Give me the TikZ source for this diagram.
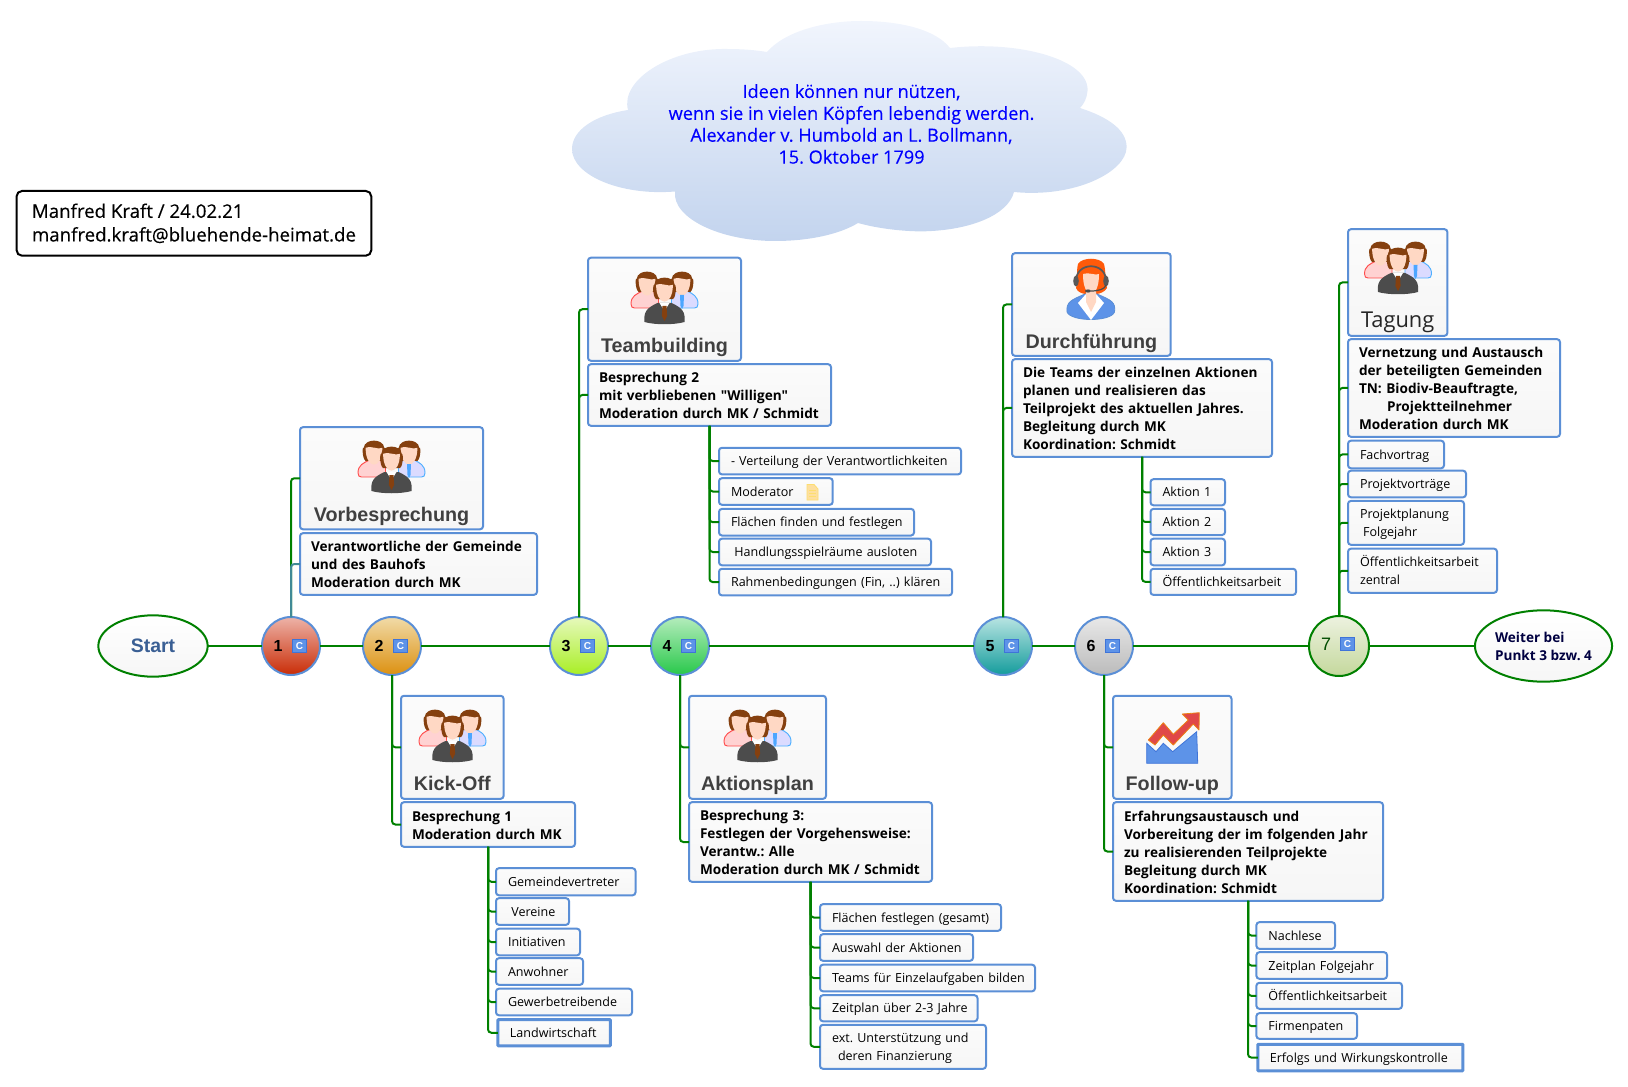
\documentclass[tikz,border=0pt]{standalone}
\usepackage{fontspec}
\setmainfont{Open Sans}
\newfontfamily\arialfont{Liberation Sans}
\newfontfamily\semifont[FakeBold=0.3]{Open Sans}
\newfontfamily\straightfont{Open Sans}
\usetikzlibrary{shapes.geometric}
\definecolor{boxblue}{HTML}{5B8FD6}
\definecolor{linegreen}{HTML}{008000}
\definecolor{top1}{HTML}{EDB3A8}\definecolor{bot1}{HTML}{C92C06}
\definecolor{top2}{HTML}{F1DBA8}\definecolor{bot2}{HTML}{DC9010}
\definecolor{top3}{HTML}{E6F9BC}\definecolor{bot3}{HTML}{A8EE24}
\definecolor{top4}{HTML}{B4ECBC}\definecolor{bot4}{HTML}{28C84A}
\definecolor{top5}{HTML}{B8E4E2}\definecolor{bot5}{HTML}{149C9C}
\definecolor{top6}{HTML}{E8E8E8}\definecolor{bot6}{HTML}{BBBBBB}
\definecolor{top7}{HTML}{EDF2E0}\definecolor{bot7}{HTML}{C4D89C}
\definecolor{hairbrown}{HTML}{85400F}
\definecolor{skin}{HTML}{FFD8C4}
\definecolor{cloudtop}{HTML}{F1F5FD}\definecolor{cloudbot}{HTML}{C3D4EE}
\definecolor{startblue}{HTML}{3A5F94}
\definecolor{badgefill}{HTML}{5D93E8}\definecolor{badgeline}{HTML}{3F74D8}
\definecolor{headhair}{HTML}{FF5A0A}
\definecolor{arrowred}{HTML}{E04848}
\tikzset{
	base/.style={draw=boxblue,line width=1.5pt,rounded corners=2.2pt,top color=white!97!gray,bottom color=white!93!gray,outer sep=0pt,inner ysep=0pt,anchor=north west,xshift=-.75pt,yshift=.6pt},
	leaf/.style 2 args={base,minimum width=#1*.75pt+1.5pt,minimum height=#2*.75pt+1.2pt,text width=#1*.75pt-16.5pt,inner xsep=8.25pt,align=left,
		font=\fontsize{9.4}{13.5}\selectfont\frenchspacing,execute at begin node={\rule{0pt}{10.95pt}},execute at end node=\strut},
	detail/.style 2 args={leaf={#1}{#2},text width=#1*.75pt-15pt,font=\fontsize{10.2}{13.5}\selectfont\bfseries\frenchspacing,execute at begin node={\rule{0pt}{12.45pt}}},
	headbox/.style n args={3}{base,minimum width=#1*.75pt+1.5pt,inner xsep=0pt,text height=#2*.75pt,text depth=5.6pt,
		font=\arialfont\fontsize{14.8}{16}\selectfont\bfseries,text=black!75,align=center,minimum height=#3*.75pt+1.2pt},
	conn/.style={draw=linegreen,line width=1.5pt,rounded corners=2.5pt},
	stepnode/.style={circle,draw=boxblue,line width=1.5pt,minimum size=43.5pt,inner sep=0pt,outer sep=0pt},
	cbadge/.style={draw=badgeline,fill=badgefill,text=white,minimum size=10pt,inner sep=0pt,line width=.6pt,
		font=\arialfont\fontsize{7.5}{8}\selectfont\bfseries},
	endnode/.style={ellipse,draw=linegreen,line width=1.5pt,top color=white,bottom color=white!93!gray,inner sep=0pt,outer sep=0pt},
}
% three people, origin at top middle of the icon
\newcommand{\headshape}[3]{%
	\begin{scope}[shift={(#1,#2)},scale=1.2]
		\fill[hairbrown] (-8.5,9) .. controls (-9.5,#3) and (-10.5,#3+11) .. (-7,#3+14)
		-- (7,#3+14) .. controls (10.5,#3+11) and (9.5,#3) .. (8.5,9)
		.. controls (8,1) and (-8,1) .. cycle;
		\fill[skin] (-7,9) .. controls (-7,19) and (-3,23) .. (0,23)
		.. controls (3,23) and (7,19) .. (7,9)
		.. controls (3,11) and (-1,7) .. cycle;
	\end{scope}
}
\newcommand{\peopleicon}[2]{%
	\begin{scope}[shift={(#1,#2)}]
		\filldraw[fill=pink!70,draw=red!70,line width=.7pt] (-33.5,36) .. controls (-33.5,28) and (-28,26) .. (-22,23)
		-- (-12,23) .. controls (-8,25) and (-6,28) .. (-6,31) -- (-6,40) -- (-30,40) .. controls (-32,40) and (-33.5,39) .. cycle;
		\headshape{-17.5}{0}{6}
		\filldraw[fill=blue!14,draw=blue!45!cyan!70,line width=.7pt] (33.5,36) .. controls (33.5,28) and (28,26) .. (23,23)
		-- (12,23) .. controls (8,25) and (7,28) .. (7,31) -- (7,40) -- (30,40) .. controls (32,40) and (33.5,39) .. cycle;
		\headshape{17.5}{0}{6}
		\fill[blue!50!cyan!70] (15.5,27) -- (19.5,27) -- (19,38) -- (17.5,41) -- (16,38) -- cycle;
		\fill[black!70] (-20,54) .. controls (-21,44) and (-18,40) .. (-7,35) -- (7,35) .. controls (18,40) and (21,44) .. (20,54)
		.. controls (10,57) and (-10,57) .. cycle;
		\fill[white] (-5,35) -- (0,43) -- (5,35) -- cycle;
		\fill[hairbrown] (-2,38) -- (2,38) -- (2.6,48) -- (0,53) -- (-2.6,48) -- cycle;
		\headshape{0}{6}{7}
	\end{scope}
}
\begin{document}
\begin{tikzpicture}[x=.75pt,y=-.75pt]
	\useasboundingbox (0,0) rectangle (1628,1087);
	%cloud
	\shade[top color=cloudtop,bottom color=cloudbot] (767,52) .. controls (785,31) and (825,21) .. (861,21)
	.. controls (902,21) and (936,30) .. (950,48)
	.. controls (1020,40) and (1090,60) .. (1087.5,91)
	.. controls (1087,98) and (1084,104) .. (1080,108)
	.. controls (1108,117) and (1127,130) .. (1126.6,147.5)
	.. controls (1126,172) and (1075,198) .. (1014,192)
	.. controls (1008,215) and (970,231) .. (920,231.4)
	.. controls (898,231) and (876,228) .. (858,223)
	.. controls (840,234) and (810,241) .. (775,241)
	.. controls (720,241) and (672,218) .. (675,191.5)
	.. controls (620,196) and (572,175) .. (572,149)
	.. controls (572,130) and (595,115) .. (628,110)
	.. controls (620,80) and (670,48) .. (727,49)
	.. controls (742,49) and (755,50) .. cycle;
	\node[align=center,text=blue,font=\semifont\fontsize{13.6}{16.4}\selectfont\frenchspacing] (quote) at (851.5,124)
	{Ideen können nur nützen,\\wenn sie in vielen Köpfen lebendig werden.\\Alexander v. Humbold an L. Bollmann,\\15. Oktober 1799};
	%author
	\node[draw=black,line width=1.5pt,rounded corners=4pt,fill=white,anchor=north west,outer sep=0pt,inner xsep=10pt,inner ysep=0pt,minimum width=266pt,minimum height=48.5pt,align=left,font=\semifont\fontsize{14}{17.7}\selectfont\frenchspacing] (author) at (16.6,191)
	{Manfred Kraft / 24.02.21\\manfred.kraft@bluehende-heimat.de};
	%axis nodes
	\node[endnode,minimum width=82pt,minimum height=46pt,text=startblue,font=\arialfont\fontsize{14.6}{16}\selectfont\bfseries] (start) at (153,646) {Start};
	\node[endnode,minimum width=100pt,minimum height=53.5pt,align=left,text=blue!25!black,font=\fontsize{10.2}{13.5}\selectfont\bfseries\frenchspacing] (weiter) at (1543.5,646) {Weiter bei\\Punkt 3 bzw. 4};
	\foreach \n/\cx in {1/291,2/392,3/579,4/680,5/1003,6/1104}
	{
		\node[stepnode,top color=top\n,bottom color=bot\n] (c\n) at (\cx,646) {};
		\node[inner sep=0pt,font=\arialfont\fontsize{12}{14}\selectfont\bfseries] (num\n) at (\cx-13,646) {\n};
		\node[cbadge] (badge\n) at (\cx+8.5,646) {C};
	}
	\node[stepnode,minimum size=45pt,draw=linegreen,top color=top7,bottom color=bot7] (c7) at (1339,646) {};
	\node[inner sep=0pt,text=black!70!green,font=\arialfont\fontsize{13.5}{14}\selectfont] (num7) at (1326,644) {7};
	\node[cbadge] (badge7) at (1347.5,644) {C};
	%head boxes
	\node[headbox={181}{93}{100.5}] (vorb) at (301,428) {Vorbesprechung};
	\node[headbox={151}{94}{101.5}] (team) at (589,258.5) {Teambuilding};
	\node[headbox={100.6}{94}{101.4}] (kick) at (402,696.6) {Kick-Off};
	\node[headbox={135}{94}{101.4}] (akt) at (690,696.6) {Aktionsplan};
	\node[headbox={156.7}{94.5}{101}] (durch) at (1013,254) {Durchführung};
	\node[headbox={116.5}{94}{101.4}] (foll) at (1114,696.6) {Follow-up};
	\node[headbox={97.4}{97.5}{105},font=\fontsize{16.4}{18}\selectfont,text=black!85] (tag) at (1349,230) {Tagung};
	%detail boxes
	\node[detail={235}{60}] (vorbd) at (301,534) {Verantwortliche der Gemeinde\\und des Bauhofs\\Moderation durch MK};
	\node[detail={241}{60}] (bes2) at (589,365) {Besprechung 2\\mit verbliebenen {\straightfont\bfseries"}Willigen{\straightfont\bfseries"}\\Moderation durch MK / Schmidt};
	\node[detail={172}{43}] (bes1) at (402,803) {Besprechung 1\\Moderation durch MK};
	\node[detail={241}{78}] (bes3) at (690,803) {Besprechung 3:\\Festlegen der Vorgehensweise:\\Verantw.: Alle\\Moderation durch MK / Schmidt};
	\node[detail={258}{96}] (durchd) at (1013,360) {Die Teams der einzelnen Aktionen\\planen und realisieren das\\Teilprojekt des aktuellen Jahres.\\Begleitung durch MK\\Koordination: Schmidt};
	\node[detail={268}{97}] (erf) at (1114,803) {Erfahrungsaustausch und\\Vorbereitung der im folgenden Jahr\\zu realisierenden Teilprojekte\\Begleitung durch MK\\Koordination: Schmidt};
	\node[detail={210}{96}] (tagd) at (1349,340) {Vernetzung und Austausch\\der beteiligten Gemeinden\\TN: Biodiv-Beauftragte,\\\hspace*{21pt}Projektteilnehmer\\Moderation durch MK};
	%leaves
	\node[leaf={240}{25}] (t1) at (720,448.6) {\mbox{- Verteilung der Verantwortlichkeiten}};
	\node[leaf={111.7}{25}] (t2) at (720,479) {Moderator};
	\node[leaf={193}{25}] (t3) at (720,509.7) {\mbox{Flächen finden und festlegen}};
	\node[leaf={210}{25}] (t4) at (720,539.5) {\mbox{\hspace*{2.5pt}Handlungsspielräume ausloten}};
	\node[leaf={231}{25}] (t5) at (720,569.6) {\mbox{Rahmenbedingungen (Fin, ..) klären}};
	\node[leaf={137.5}{25.5}] (k1) at (497,869) {Gemeindevertreter};
	\node[leaf={71}{25}] (k2) at (497,899) {\hspace*{2.5pt}Vereine};
	\node[leaf={82}{25}] (k3) at (497,929.5) {Initiativen};
	\node[leaf={85}{25}] (k4) at (497,959) {Anwohner};
	\node[leaf={134}{25}] (k5) at (497,989.5) {Gewerbetreibende};
	\node[leaf={110.5}{24.5},line width=2.3pt,rounded corners=.5pt] (k6) at (498.9,1020.5) {Landwirtschaft};
	\node[leaf={179}{25}] (a1) at (821,905) {\mbox{Flächen festlegen (gesamt)}};
	\node[leaf={151}{25}] (a2) at (821,935) {\mbox{Auswahl der Aktionen}};
	\node[leaf={213}{25}] (a3) at (821,965.5) {\mbox{Teams für Einzelaufgaben bilden}};
	\node[leaf={155.5}{24.5}] (a4) at (821,996) {\mbox{Zeitplan über 2-3 Jahre}};
	\node[leaf={164}{42.4}] (a5) at (821,1025.6) {ext. Unterstützung und\\\hspace*{4.5pt}deren Finanzierung};
	\node[leaf={72.5}{24.5}] (d1) at (1151.5,480) {Aktion 1};
	\node[leaf={72.5}{24.5}] (d2) at (1151.5,509.7) {Aktion 2};
	\node[leaf={72.5}{25}] (d3) at (1151.5,539.5) {Aktion 3};
	\node[leaf={143.5}{24.5}] (d4) at (1151.5,569.6) {Öffentlichkeitsarbeit};
	\node[leaf={76.6}{25}] (f1) at (1257.4,923) {Nachlese};
	\node[leaf={128.6}{25}] (f2) at (1257.4,953) {\mbox{Zeitplan Folgejahr}};
	\node[leaf={143.6}{24.4}] (f3) at (1257.4,983.6) {Öffentlichkeitsarbeit};
	\node[leaf={98.6}{24}] (f4) at (1257.4,1014) {Firmenpaten};
	\node[leaf={203}{24.9},line width=2.3pt,rounded corners=.5pt] (f5) at (1258.9,1045.1) {\mbox{Erfolgs und Wirkungskontrolle}};
	\node[leaf={94}{26}] (g1) at (1349,441.5) {Fachvortrag};
	\node[leaf={116}{25}] (g2) at (1349,471.5) {Projektvorträge};
	\node[leaf={114}{42.3}] (g3) at (1349,501.7) {Projektplanung\\\hspace*{2.3pt}Folgejahr};
	\node[leaf={147}{42.5}] (g4) at (1349,549.5) {Öffentlichkeitsarbeit\\zentral};
	%icons
	\peopleicon{391.5}{437}
	\peopleicon{664.5}{268}
	\peopleicon{452.5}{706}
	\peopleicon{757.5}{706}
	\peopleicon{1398}{238}
	\begin{scope}[shift={(1091,250)}]
		\fill[headhair] (-13,14) .. controls (-9,7) and (9,7) .. (13,14) .. controls (15,22) and (14,30) .. (16,38) .. controls (14,42) and (8,44) .. (5,44) -- (-5,44) .. controls (-8,44) and (-14,42) .. (-15,38) .. controls (-13,30) and (-15,22) .. cycle;
		\filldraw[fill=badgefill,draw=boxblue,line width=.6pt] (-24,62) .. controls (-25,52) and (-20,50) .. (-6,44) -- (6,44) .. controls (20,50) and (25,52) .. (23.5,62) .. controls (20,72) and (-20,72) .. cycle;
		\fill[white] (-13,53) -- (-5,44) -- (5,44) -- (13,53) -- (0,70) -- cycle;
		\fill[skin] (-8,24) .. controls (-8,34) and (-6,38) .. (-5,40) -- (-5,52) -- (0,62) -- (5,52) -- (5,40) .. controls (6,38) and (8,34) .. (8,24) .. controls (4,26) and (0,22) .. cycle;
		\draw[black!65,line width=1.3pt] (-15,32) .. controls (-16,11) and (16,11) .. (15,32);
		\fill[black!65] (-15,31) ellipse (2.8 and 5.5) (15,31) ellipse (2.8 and 5.5);
		\draw[black!70,line width=.9pt] (15,35) .. controls (14,39) and (8,41) .. (0,41);
		\fill[black!70] (-3,41) ellipse (3 and 1.6);
	\end{scope}
	\begin{scope}[shift={(1130,700)}]
		\filldraw[fill=badgefill,draw=badgeline,line width=.6pt] (16.7,43.3) -- (26,51.7) -- (33.3,43.3) -- (42.7,51.7) -- (66.7,31.7) -- (67.7,63.3) -- (16.7,63.3) -- cycle;
		\filldraw[fill=arrowred,draw=orange!70!brown,line width=.6pt,line join=round] (18.3,40) -- (33.3,22.7) -- (43.3,34.3) -- (58.3,20) -- (52.3,14) -- (69.3,12.7) -- (69,30) -- (63.3,24) -- (43.3,45) -- (33.3,35) -- (25,45) -- cycle;
	\end{scope}
	\filldraw[fill=yellow!35!orange!35!white,draw=yellow!60!orange!55!white,line width=.6pt] (807,484.5) -- (814,484.5) -- (818,489) -- (818,500) -- (807,500) -- cycle;
	\draw[yellow!60!orange!55!white,line width=.6pt] (809,490) -- (816,490) (809,493) -- (816,493) (809,496) -- (816,496);
	%connectors
	\foreach \a/\b in {start/c1,c1/c2,c2/c3,c3/c4,c4/c5,c5/c6,c6/c7,c7/weiter}
	\draw[conn] (\a) -- (\b);
	\foreach \src/\kid in {c1/vorb,c2/kick,c2/bes1,c3/team,c3/bes2,c4/akt,c4/bes3,c5/durch,c5/durchd,c6/foll,c6/erf,c7/tag,c7/tagd,c7/g1,c7/g2,c7/g3,c7/g4,
		bes1/k1,bes1/k2,bes1/k3,bes1/k4,bes1/k5,bes1/k6,bes2/t1,bes2/t2,bes2/t3,bes2/t4,bes2/t5,bes3/a1,bes3/a2,bes3/a3,bes3/a4,bes3/a5,
		durchd/d1,durchd/d2,durchd/d3,durchd/d4,erf/f1,erf/f2,erf/f3,erf/f4,erf/f5}
	\draw[conn] (\src) |- (\kid.west);
	\draw[conn,draw=boxblue!70!linegreen] (c1) |- (vorbd.west);
\end{tikzpicture}
\end{document}
